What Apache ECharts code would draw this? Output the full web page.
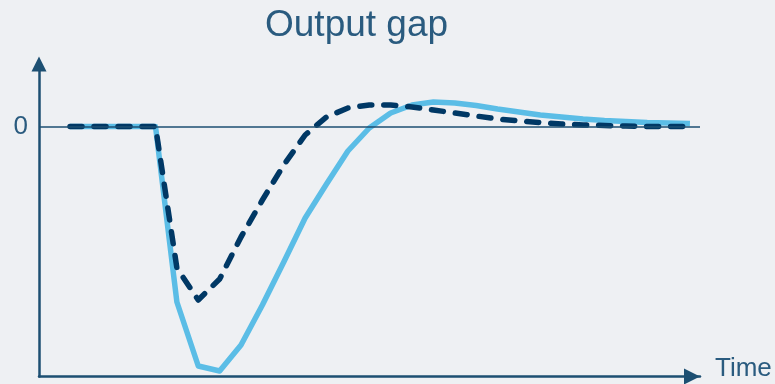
<!DOCTYPE html>
<html>
<head>
<meta charset="utf-8">
<script src="https://cdn.jsdelivr.net/npm/echarts@6/dist/echarts.min.js"></script>
<style>
  html, body { margin: 0; padding: 0; background: #eef0f3; }
  #chart { width: 775px; height: 384px; }
</style>
</head>
<body>
<div id="chart"></div>
<script>
  // periods along the time axis
  var periods = [];
  for (var i = 0; i < 30; i++) periods.push(i);

  var outputGapSolid = [0, 0, 0, 0, 0, -70.2, -95.8, -97.8, -87.4, -71.4, -54.2, -36.6, -23.0, -9.8, -0.6,
    5.4, 8.6, 9.8, 9.4, 8.4, 7.0, 5.8, 4.6, 3.8, 3.0, 2.4, 2.0, 1.6, 1.4, 1.2];
  var outputGapDashed = [0, 0, 0, 0, 0, -56.6, -69.4, -61.0, -44.2, -29.4, -15.4, -3.4, 3.8, 7.4, 8.6,
    8.6, 7.8, 6.6, 5.4, 4.2, 3.0, 2.2, 1.6, 1.0, 0.6, 0.4, 0.2, 0, 0, 0];

  var axisColor = '#1d4f72';
  var textColor = '#2a5b7f';
  var font = 'Liberation Sans, Arial, sans-serif';

  function pairs(vals) {
    return vals.map(function (v, i) { return [periods[i], v]; });
  }

  var myChart = echarts.init(document.getElementById('chart'));
  myChart.setOption({
    backgroundColor: '#eef0f3',
    animation: false,
    title: {
      text: 'Output gap',
      left: 260,
      top: 2,
      textStyle: { color: textColor, fontSize: 37, fontWeight: 'normal', fontFamily: font }
    },
    grid: { left: 39, right: 75, top: 64, bottom: 7.5, outerBoundsMode: 'none', containLabel: false },
    xAxis: {
      type: 'value',
      min: -1.45,
      max: 29.47,
      name: 'Time',
      nameLocation: 'end',
      nameGap: 15,
      nameTextStyle: { color: textColor, fontSize: 26, fontFamily: font, verticalAlign: 'bottom', lineHeight: 16 },
      axisLine: {
        show: true,
        onZero: false,
        symbol: ['none', 'triangle'],
        symbolSize: [16, 16],
        symbolOffset: [0, -8],
        lineStyle: { color: axisColor, width: 2.5 }
      },
      axisTick: { show: false },
      axisLabel: { show: false },
      splitLine: { show: false }
    },
    yAxis: {
      type: 'value',
      min: -100,
      max: 25,
      interval: 25,
      axisLine: {
        show: true,
        onZero: false,
        symbol: ['none', 'triangle'],
        symbolSize: [15, 15],
        lineStyle: { color: axisColor, width: 2.5 }
      },
      axisTick: { show: false },
      axisLabel: {
        margin: 11,
        color: textColor,
        fontSize: 26,
        fontFamily: font,
        formatter: function (v) { return v === 0 ? '0' : ''; }
      },
      splitLine: { show: false }
    },
    series: [
      {
        type: 'line',
        data: pairs(outputGapSolid),
        symbol: 'none',
        lineStyle: { color: '#5bbde6', width: 5.5, join: 'round' },
        markLine: {
          silent: true,
          symbol: 'none',
          label: { show: false },
          lineStyle: { color: axisColor, width: 1.5, type: 'solid' },
          data: [{ yAxis: 0 }]
        },
        z: 2
      },
      {
        type: 'line',
        data: pairs(outputGapDashed),
        symbol: 'none',
        lineStyle: { color: '#003865', width: 5.5, type: [12, 12], cap: 'round', join: 'round' },
        z: 3
      }
    ]
  });
</script>
</body>
</html>
